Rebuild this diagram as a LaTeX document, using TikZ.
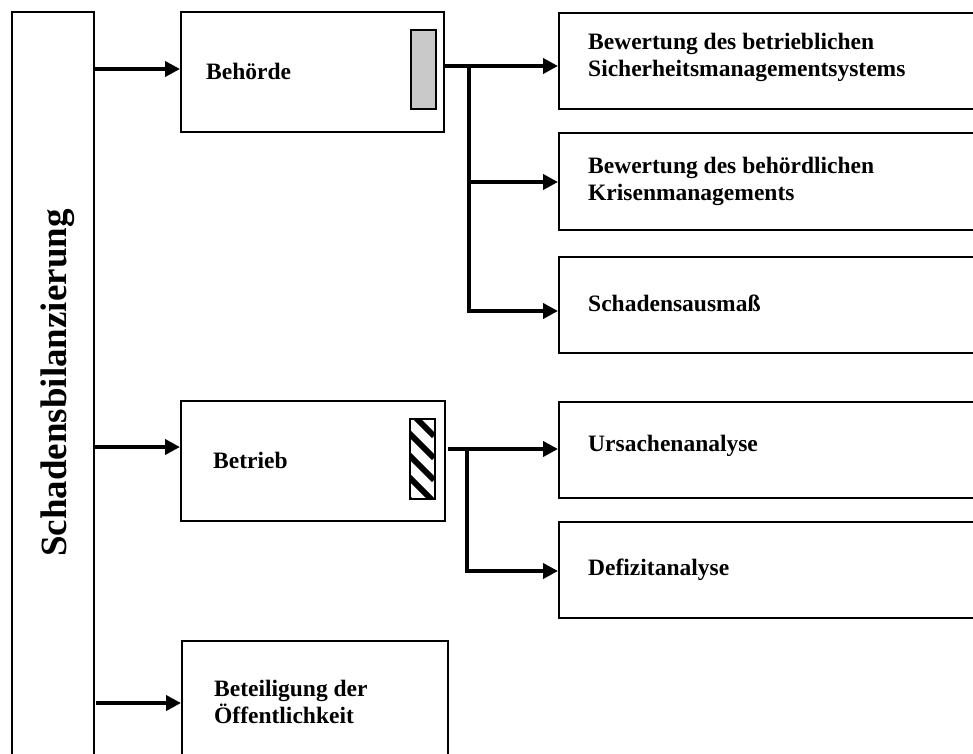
\documentclass[tikz,border=0pt]{standalone}
\usepackage{fontspec}
\setmainfont{Liberation Serif}
\usetikzlibrary{arrows.meta}
\begin{document}
\begin{tikzpicture}[x=1pt,y=-1pt,
  box/.style={draw, line width=1.7pt, inner sep=0pt, anchor=north west},
  lbl/.style={font=\bfseries\fontsize{23.5}{27}\selectfont, align=left, anchor=west, inner sep=0pt},
  conn/.style={line width=4pt},
  arr/.style={conn, -{Triangle[length=15pt,width=15pt]}},
  markbox/.style={draw, line width=1.5pt, inner sep=0pt, anchor=north west, minimum width=25pt}
]
\useasboundingbox (0,0) rectangle (973,753);
\clip (0,0) rectangle (973,753);

% main vertical box
\node[box, minimum width=82pt, minimum height=800pt] (main) at (11,11) {};
\node[rotate=90, inner sep=0pt, font=\bfseries\fontsize{37}{40}\selectfont] (tmain) at (57.5,383) {Schadensbilanzierung};

% second column
\node[box, minimum width=263pt, minimum height=120pt] (beh) at (180,11) {};
\node[box, minimum width=264pt, minimum height=120pt] (bet) at (180,400) {};
\node[box, minimum width=266pt, minimum height=200pt] (bot) at (181,640) {};

% markers
\node[markbox, fill=black!21, minimum height=79pt] (gr) at (410,29) {};
\node[markbox, minimum height=80pt] (ht) at (409,418) {};
\begin{scope}
  \clip (ht.north west) rectangle (ht.south east);
  \foreach \k in {-2,...,4} {
    \draw[line width=6pt] (409,411+22*\k) -- (434,436+22*\k);
  }
\end{scope}
\node[markbox, minimum height=80pt] (htb) at (409,418) {};

% right column
\node[box, minimum width=500pt, minimum height=96pt] (r1) at (558,12) {};
\node[box, minimum width=500pt, minimum height=97pt] (r2) at (558,132) {};
\node[box, minimum width=500pt, minimum height=96pt] (r3) at (558,256) {};
\node[box, minimum width=500pt, minimum height=96pt] (r4) at (558,401) {};
\node[box, minimum width=500pt, minimum height=96pt] (r5) at (558,521) {};

% labels
\node[lbl] (tbeh) at (206,71) {Behörde};
\node[lbl] (t1) at (588,57) {Bewertung des betrieblichen\\Sicherheitsmanagementsystems};
\node[lbl] (t2) at (588,181) {Bewertung des behördlichen\\Krisenmanagements};
\node[lbl] (t3) at (588,303) {Schadensausmaß};
\node[lbl] (tbet) at (213,460) {Betrieb};
\node[lbl] (t4) at (588,446) {Ursachenanalyse};
\node[lbl] (t5) at (588,570) {Defizitanalyse};
\node[lbl] (tbot) at (214,702) {Beteiligung der\\Öffentlichkeit};

% connectors from main box
\coordinate (a1) at (93,69);
\coordinate (a2) at (93,447);
\coordinate (a3) at (96,703);
\draw[arr] (a1) -- (beh.west |- a1);
\draw[arr] (a2) -- (bet.west |- a2);
\draw[arr] (a3) -- (bot.west |- a3);

% Behörde branch
\coordinate (jb1) at (469,66);
\coordinate (jb2) at (469,182);
\coordinate (jb3) at (469,311);
\draw[conn] (beh.east |- jb1) -- (jb1);
\draw[arr] (jb1) -- (r1.west |- jb1);
\draw[conn] (jb1) -- (jb3);
\draw[arr] (jb2) -- (r2.west |- jb2);
\draw[arr] ([xshift=-2pt]jb3) -- (r3.west |- jb3);

% Betrieb branch
\coordinate (jt1) at (467,449);
\coordinate (jt2) at (467,571);
\draw[conn] ([xshift=2pt]bet.east |- jt1) -- (jt1);
\draw[arr] (jt1) -- (r4.west |- jt1);
\draw[conn] (jt1) -- (jt2);
\draw[arr] ([xshift=-2pt]jt2) -- (r5.west |- jt2);
\end{tikzpicture}
\end{document}
